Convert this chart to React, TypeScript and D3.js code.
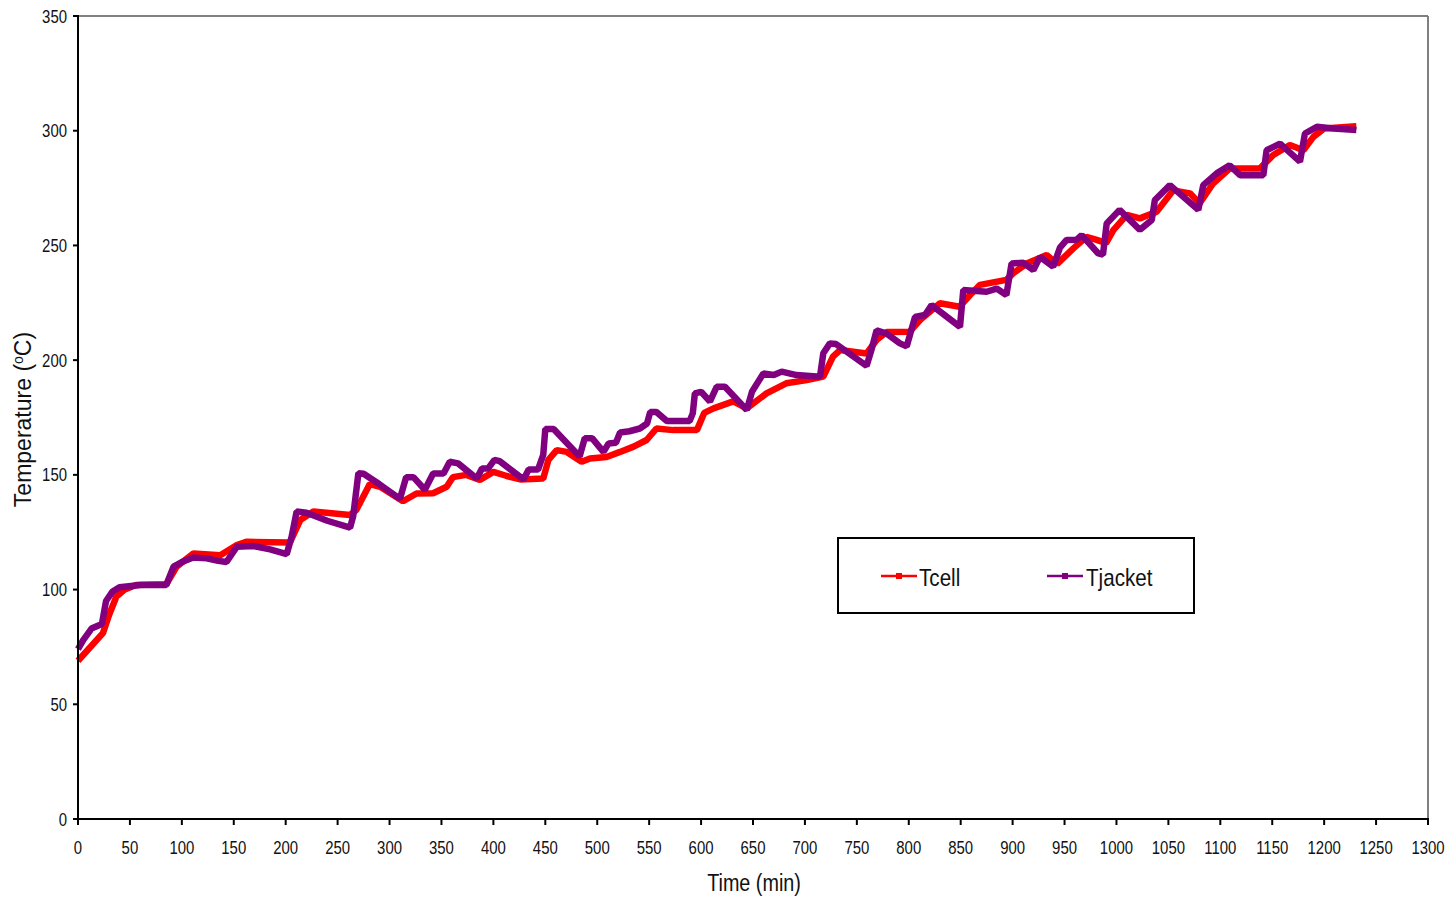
import React from "react";
import * as d3 from "d3";

const xTicks = [0, 50, 100, 150, 200, 250, 300, 350, 400, 450, 500, 550, 600, 650, 700, 750, 800, 850, 900, 950, 1000, 1050, 1100, 1150, 1200, 1250, 1300];
const yTicks = [0, 50, 100, 150, 200, 250, 300, 350];

const tcellTime = [0, 10, 24, 30, 37, 45, 56, 85, 95, 111, 137, 153, 162, 204, 214, 226.6, 262, 268, 281, 291, 313, 326, 342, 355, 361, 374, 387, 400, 413, 426, 448, 453, 461, 470.6, 485, 493, 509, 522, 535, 547.6, 557, 573, 596, 603, 612, 631, 644, 663, 682, 701.7, 717.7, 727, 733.8, 759.4, 769, 778.7, 801, 810.8, 830, 849, 859, 868.6, 894, 900.7, 913.5, 932.8, 943, 958.5, 971, 981, 990, 997, 1010, 1022.6, 1038.7, 1054.7, 1070.8, 1080, 1093, 1109, 1138, 1151, 1167, 1180, 1189.6, 1200, 1231];
const tcellTemp = [69, 74, 81, 89, 97, 100, 102, 102.3, 110, 115.7, 115, 119.4, 120.8, 120.5, 130.3, 134, 132.5, 134.7, 146, 144.8, 138.5, 141.9, 142, 144.8, 149, 150, 147.8, 151.3, 149.5, 148, 148.4, 156.5, 160.8, 160, 155.7, 157.1, 157.8, 160, 162.3, 165.2, 170.2, 169.5, 169.5, 177, 179, 182, 179, 185.5, 189.9, 191.3, 192.8, 201.5, 204.4, 202.9, 208.8, 212.3, 212.4, 217.5, 224.8, 223.3, 228.4, 232.8, 235, 237.9, 242.1, 245.8, 242, 248.7, 253.7, 252.4, 251, 256.7, 263.3, 261.8, 264.7, 274, 272.7, 268.3, 277, 283.5, 283.5, 289.4, 293.8, 291.5, 297.3, 301, 302];

const tjacketTime = [0, 5, 13, 23, 27, 33, 40, 60, 85, 92, 100, 111, 124, 135, 143, 153, 169, 185, 201, 205.7, 210.5, 220, 240, 262, 265, 270, 275, 290, 310, 316, 323, 334, 342, 352, 358, 366, 384, 389, 395, 401, 406, 429, 434, 443, 448, 450, 458, 483, 488, 495, 506, 511, 518, 522, 531, 541, 548, 551, 557, 567, 589, 592, 594, 600, 608.6, 615, 623, 644, 649, 660, 670, 677.6, 692, 714.5, 717.7, 724, 730, 759.4, 764, 769, 778.7, 791.5, 798, 806, 815.6, 822, 849.3, 852.5, 875, 884.6, 894, 899, 910, 920, 926.4, 939, 945.6, 952, 961.7, 966.5, 982.5, 987, 990.6, 1003, 1022.6, 1034, 1037, 1051.5, 1078.8, 1083.6, 1096.5, 1109, 1119, 1141.4, 1144.6, 1157.5, 1176.7, 1181.5, 1193, 1208.8, 1231];
const tjacketTemp = [74, 78, 83, 85, 95, 99, 101, 102, 102, 110, 112, 114, 113.6, 112.5, 112, 118.7, 119, 117.5, 115.5, 123, 134, 133.5, 130, 127, 132, 150.7, 150.5, 146, 139.5, 149, 149, 143.5, 150.6, 150.6, 155.7, 155, 148.4, 152.8, 152.8, 156.5, 156, 148, 152.3, 152.3, 158.7, 170, 170, 158, 166, 166, 160, 163.7, 164, 168.5, 169, 170.2, 172.4, 177.4, 177.4, 173.5, 173.5, 176.8, 185.5, 186.2, 182, 188.4, 188.4, 178.3, 186.2, 194.2, 193.5, 195, 193.5, 192.8, 203, 207.3, 207, 197.5, 204.4, 213, 211.6, 207.3, 206, 218.8, 219.7, 224, 214.5, 230.6, 229.8, 231.2, 228.4, 242.1, 242.5, 239.3, 245, 240.7, 249, 252.4, 252.5, 254.5, 246.5, 246, 259.6, 265.5, 256.8, 261.1, 269.8, 276.3, 265.5, 276.3, 281.4, 284.9, 280.6, 280.6, 291.5, 294.4, 286.5, 298.8, 301.7, 301, 300.3];

const seriesNames = ["Tcell", "Tjacket"];
const seriesColors = ["#ff0000", "#800080"];

const FONT = "'Liberation Sans', Arial, sans-serif";

function NText(props: { x: number; y: number; sx: number; size: number; anchor?: string; children: React.ReactNode }) {
  return (
    <text
      transform={`translate(${props.x},${props.y}) scale(${props.sx},1)`}
      textAnchor={props.anchor || "start"}
      fontFamily={FONT}
      fontSize={props.size}
      fill="#111"
    >
      {props.children}
    </text>
  );
}

export default function App() {
  const W = 1452, H = 900;
  const left = 78, right = 1428, top = 16, bottom = 819;
  const x = d3.scaleLinear().domain([0, 1300]).range([left, right]);
  const y = d3.scaleLinear().domain([0, 350]).range([bottom, top]);
  const line = d3.line<[number, number]>().x((d) => x(d[0])).y((d) => y(d[1]));
  const cell = tcellTime.map((t, i) => [t, tcellTemp[i]] as [number, number]);
  const jacket = tjacketTime.map((t, i) => [t, tjacketTemp[i]] as [number, number]);

  const lgX = 838, lgY = 538, lgW = 356, lgH = 75;
  const legendItems = [
    { name: seriesNames[0], color: seriesColors[0], x1: 881, x2: 917, tx: 919 },
    { name: seriesNames[1], color: seriesColors[1], x1: 1047, x2: 1083, tx: 1086 },
  ];

  return (
    <div style={{ position: "absolute", left: 0, top: 0 }}>
      <svg width={W} height={H} style={{ display: "block", background: "#fff" }}>
        <line x1={left} y1={top} x2={right} y2={top} stroke="#808080" strokeWidth={2} />
        <line x1={right} y1={top} x2={right} y2={bottom} stroke="#808080" strokeWidth={2} />
        <path d={line(cell) || ""} fill="none" stroke={seriesColors[0]} strokeWidth={6.5} strokeLinejoin="bevel" />
        <path d={line(jacket) || ""} fill="none" stroke={seriesColors[1]} strokeWidth={6.5} strokeLinejoin="bevel" />
        <line x1={left} y1={top - 1} x2={left} y2={bottom + 1} stroke="#000" strokeWidth={2} />
        <line x1={left - 1} y1={bottom} x2={right + 1} y2={bottom} stroke="#000" strokeWidth={2} />
        {yTicks.map((v) => (
          <g key={"y" + v}>
            <line x1={left - 5} x2={left} y1={y(v)} y2={y(v)} stroke="#000" strokeWidth={2} />
            <NText x={left - 11} y={y(v) + 6.5} sx={0.83} size={18} anchor="end">{v}</NText>
          </g>
        ))}
        {xTicks.map((v) => (
          <g key={"x" + v}>
            <line x1={x(v)} x2={x(v)} y1={bottom} y2={bottom + 6} stroke="#000" strokeWidth={2} />
            <NText x={x(v)} y={854} sx={0.83} size={18} anchor="middle">{v}</NText>
          </g>
        ))}
        <NText x={(left + right) / 2 + 1} y={891} sx={0.86} size={23} anchor="middle">Time (min)</NText>
        <text transform={`translate(31, ${(top + bottom) / 2 + 2}) rotate(-90)`} textAnchor="middle" fontFamily={FONT} fontSize={23} fill="#111">
          Temperature (<tspan dy="-8" fontSize={14}>o</tspan><tspan dy="8">C)</tspan>
        </text>
        <rect x={lgX} y={lgY} width={lgW} height={lgH} fill="#fff" stroke="#000" strokeWidth={2} />
        {legendItems.map((it) => (
          <g key={it.name}>
            <line x1={it.x1} x2={it.x2} y1={576} y2={576} stroke={it.color} strokeWidth={2.5} />
            <rect x={(it.x1 + it.x2) / 2 - 3} y={573} width={6} height={6} fill={it.color} />
            <NText x={it.tx} y={586} sx={0.86} size={24}>{it.name}</NText>
          </g>
        ))}
      </svg>
    </div>
  );
}
